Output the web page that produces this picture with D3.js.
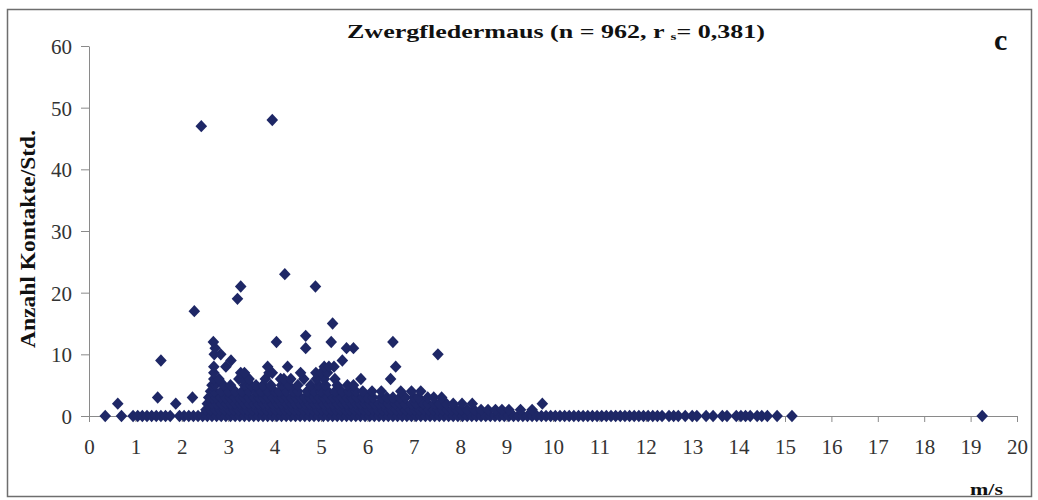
<!DOCTYPE html>
<html>
<head>
<meta charset="utf-8">
<script src="https://cdn.jsdelivr.net/npm/d3@7"></script>
<style>
  html, body { margin: 0; padding: 0; background: #fff; }
  svg { display: block; }
  .tick text { font-family: "Liberation Serif", "Times New Roman", "DejaVu Serif", serif; fill: #333; }
  .lbl { font-family: "Liberation Serif", "Times New Roman", "DejaVu Serif", serif; font-weight: bold; fill: #111; }
</style>
</head>
<body>
<div id="chart"></div>
<script>
// Zwergfledermaus – contacts per hour vs wind speed (m/s)

// wind speeds (m/s) of records, grouped by contacts/hour
const speedsAt0 = [0.35, 0.7, 0.95, 1.05, 1.15, 1.25, 1.35, 1.45, 1.55, 1.65, 1.75, 1.95, 2.05, 2.15, 2.25, 2.35, 2.45,
  2.55, 2.65, 2.75, 2.85, 2.95, 3.05, 3.15, 3.25, 3.35, 3.45, 3.55, 3.65, 3.75, 3.85, 3.95, 4.05, 4.15, 4.25, 4.35,
  4.45, 4.55, 4.65, 4.75, 4.85, 4.95, 5.05, 5.15, 5.25, 5.35, 5.45, 5.55, 5.65, 5.75, 5.85, 5.95, 6.05, 6.15, 6.25,
  6.35, 6.45, 6.55, 6.65, 6.75, 6.85, 6.95, 7.05, 7.15, 7.25, 7.35, 7.45, 7.55, 7.65, 7.75, 7.85, 7.95, 8.05, 8.15,
  8.25, 8.35, 8.45, 8.55, 8.65, 8.75, 8.85, 8.95, 9.05, 9.15, 9.25, 9.35, 9.45, 9.55, 9.65, 9.75, 9.85, 9.95, 10.05,
  10.15, 10.25, 10.35, 10.45, 10.55, 10.65, 10.75, 10.85, 10.95, 11.05, 11.15, 11.25, 11.35, 11.45, 11.55, 11.65,
  11.75, 11.85, 11.95, 12.05, 12.15, 12.25, 12.35, 12.5, 12.6, 12.7, 12.85, 13.0, 13.1, 13.3, 13.45, 13.65, 13.75,
  13.95, 14.05, 14.15, 14.25, 14.4, 14.5, 14.62, 14.83, 15.15, 19.25];
const speedsAt1 = [2.52, 2.62, 2.72, 2.82, 2.92, 3.02, 3.12, 3.22, 3.32, 3.42, 3.52, 3.62, 3.72, 3.82, 3.92, 4.02, 4.12,
  4.22, 4.32, 4.42, 4.52, 4.62, 4.72, 4.82, 4.92, 5.02, 5.12, 5.22, 5.32, 5.42, 5.52, 5.62, 5.72, 5.82, 5.92, 6.02,
  6.12, 6.22, 6.32, 6.42, 6.52, 6.62, 6.72, 6.82, 6.92, 7.02, 7.12, 7.22, 7.32, 7.42, 7.52, 7.62, 7.72, 7.82, 7.92,
  8.02, 8.15, 8.3, 8.45, 8.6, 8.76, 8.9, 9.05, 9.3, 9.55];
const speedsAt2 = [0.62, 1.87, 2.55, 2.65, 2.75, 2.85, 2.95, 3.05, 3.15, 3.25, 3.35, 3.45, 3.55, 3.65, 3.75, 3.85, 3.95,
  4.05, 4.15, 4.25, 4.35, 4.45, 4.55, 4.65, 4.75, 4.85, 4.95, 5.05, 5.15, 5.25, 5.35, 5.45, 5.55, 5.65, 5.75, 5.85,
  5.95, 6.05, 6.15, 6.25, 6.35, 6.45, 6.6, 6.7, 6.8, 6.95, 7.05, 7.2, 7.3, 7.45, 7.55, 7.7, 7.85, 8.04, 8.26, 9.77];
const speedsAt3 = [1.48, 2.23, 2.58, 2.66, 2.74, 2.84, 2.94, 3.04, 3.14, 3.24, 3.34, 3.44, 3.56, 3.66, 3.76, 3.86, 3.96,
  4.06, 4.16, 4.26, 4.36, 4.46, 4.56, 4.66, 4.76, 4.86, 4.96, 5.06, 5.16, 5.26, 5.36, 5.46, 5.56, 5.66, 5.78, 5.9,
  6.0, 6.12, 6.3, 6.42, 6.55, 6.7, 6.82, 7.0, 7.1, 7.3, 7.43, 7.6];
const speedsAt4 = [2.62, 2.7, 2.85, 3.0, 3.15, 3.3, 3.45, 3.6, 3.7, 3.85, 4.0, 4.1, 4.25, 4.4, 4.5, 4.7, 4.85, 5.0,
  5.15, 5.3, 5.45, 5.6, 5.75, 5.9, 6.1, 6.3, 6.72, 6.95, 7.15];
const speedsAt5 = [2.65, 2.72, 2.9, 3.05, 3.35, 3.49, 3.6, 3.75, 3.92, 4.15, 4.3, 4.5, 4.78, 4.95, 5.1, 5.35, 5.57, 5.7];
const speedsAt6 = [2.69, 2.8, 3.23, 3.31, 3.45, 3.8, 4.13, 4.2, 4.35, 4.63, 4.9, 5.07, 5.3, 5.86, 6.5];
const speedsAt7 = [2.69, 3.27, 3.35, 3.88, 3.95, 4.56, 4.89, 5.0, 5.14];
const speedsAt8 = [2.69, 2.95, 3.85, 4.28, 5.07, 5.17, 5.28, 6.61];

// isolated high records
const peakSpeeds = [1.55, 3.06, 5.46, 2.7, 2.84, 7.52, 2.72, 4.67, 5.55, 5.7, 2.68, 4.04, 5.22, 6.55, 4.67, 5.25,
  2.27, 3.2, 3.27, 4.88, 4.22, 2.42, 3.95];
const peakCounts = [9, 9, 9, 10, 10, 10, 11, 11, 11, 11, 12, 12, 12, 12, 13, 15, 17, 19, 21, 21, 23, 47, 48];

const xTicks = d3.range(0, 21);
const yTicks = [0, 10, 20, 30, 40, 50, 60];

const levels = [speedsAt0, speedsAt1, speedsAt2, speedsAt3, speedsAt4, speedsAt5, speedsAt6, speedsAt7, speedsAt8];
const points = [];
levels.forEach((arr, count) => arr.forEach(s => points.push({ speed: s, count: count })));
peakSpeeds.forEach((s, i) => points.push({ speed: s, count: peakCounts[i] }));

const WIDTH = 1038, HEIGHT = 500;
const X0 = 89, X1 = 1017, Y0 = 416, Y1 = 46;
const MARK = "#1e2766";

const svg = d3.select("#chart").append("svg").attr("width", WIDTH).attr("height", HEIGHT);

// outer frame
svg.append("rect").attr("x", 7.5).attr("y", 9.5).attr("width", 1024).attr("height", 487)
  .attr("fill", "none").attr("stroke", "#6e6e6e").attr("stroke-width", 1.5);

const x = d3.scaleLinear().domain([0, 20]).range([X0, X1]);
const y = d3.scaleLinear().domain([0, 60]).range([Y0, Y1]);

// y axis
const gY = svg.append("g").attr("transform", `translate(${X0},0)`)
  .call(d3.axisLeft(y).tickValues(yTicks).tickSize(8).tickSizeOuter(0).tickPadding(9));
gY.select(".domain").attr("stroke", "#8a8a8a");
gY.selectAll(".tick line").attr("stroke", "#8a8a8a");
gY.selectAll(".tick text").style("font-size", "21px").attr("dy", "0.36em");

// x axis
const gX = svg.append("g").attr("transform", `translate(0,${Y0})`)
  .call(d3.axisBottom(x).tickValues(xTicks).tickSize(6).tickSizeOuter(0).tickPadding(17));
gX.select(".domain").attr("stroke", "#8a8a8a");
gX.selectAll(".tick line").attr("stroke", "#8a8a8a");
gX.selectAll(".tick text").style("font-size", "21px");

// diamonds
const diamond = "M0,-6.2L5.8,0L0,6.2L-5.8,0Z";
svg.append("g").selectAll("path.pt").data(points).join("path")
  .attr("class", "pt")
  .attr("d", diamond)
  .attr("transform", d => `translate(${x(d.speed)},${y(d.count)})`)
  .attr("fill", MARK);

// title
const title = svg.append("text").attr("class", "lbl").attr("x", 347).attr("y", 38)
  .attr("textLength", 418).attr("lengthAdjust", "spacingAndGlyphs").style("font-size", "19px");
title.append("tspan").text("Zwergfledermaus (n = 962, r ");
title.append("tspan").attr("dy", 2).style("font-size", "11px").text("s");
title.append("tspan").attr("dy", -2).text("= 0,381)");

// panel letter
svg.append("text").attr("class", "lbl").attr("x", 994).attr("y", 50).style("font-size", "30px").text("c");

// axis titles
svg.append("text").attr("class", "lbl")
  .attr("transform", "translate(35,239) rotate(-90)")
  .attr("text-anchor", "middle")
  .attr("textLength", 218).attr("lengthAdjust", "spacingAndGlyphs")
  .style("font-size", "20px")
  .text("Anzahl Kontakte/Std.");

svg.append("text").attr("class", "lbl").attr("x", 970).attr("y", 495)
  .attr("textLength", 33).attr("lengthAdjust", "spacingAndGlyphs")
  .style("font-size", "17px").text("m/s");
</script>
</body>
</html>
